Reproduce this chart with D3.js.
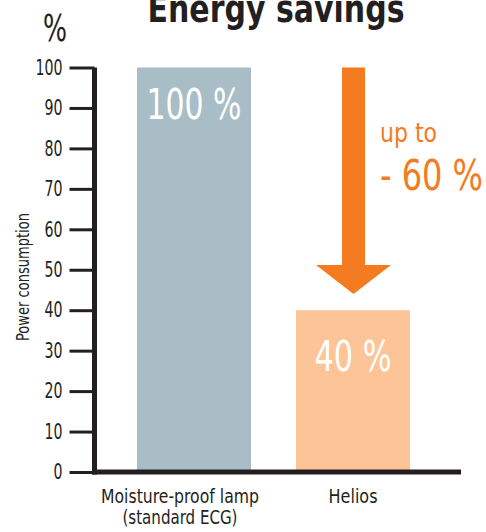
<!DOCTYPE html>
<html lang="en">
<head>
<meta charset="utf-8">
<title>Energy savings</title>
<script src="https://cdn.jsdelivr.net/npm/d3@7"></script>
<style>
  body { margin: 0; background: #fff; }
  svg text { font-family: "Liberation Sans Narrow", "DejaVu Sans Condensed", sans-serif; }
</style>
</head>
<body>
<script>
// data
var categories = ["Moisture-proof lamp|(standard ECG)", "Helios"];
var values = [100, 40];
var valueLabels = ["100 %", "40 %"];
var yTicks = [0, 10, 20, 30, 40, 50, 60, 70, 80, 90, 100];
var arrowFrom = 100, arrowTo = 44;

var width = 486, height = 532;
var ink = "#231f20", orange = "#f47b20";
var barColors = ["#a9bdc6", "#fdc597"];

// the fonts here are wider than the original condensed face, squeeze them
function squeeze(sel, w) {
  sel.attr("textLength", w).attr("lengthAdjust", "spacingAndGlyphs");
}

var svg = d3.select("body").append("svg")
  .attr("width", width)
  .attr("height", height);

var y = d3.scaleLinear().domain([0, 100]).range([472, 67.5]);
var x = d3.scaleBand().domain(categories).range([95, 452])
  .paddingInner(0.283).paddingOuter(0.264);

// title
svg.append("text")
  .attr("x", 276).attr("y", 22)
  .attr("text-anchor", "middle")
  .attr("font-size", 38).attr("font-weight", "bold")
  .attr("fill", ink)
  .call(squeeze, 257)
  .text("Energy savings");

svg.append("text")
  .attr("x", 55).attr("y", 41)
  .attr("text-anchor", "middle")
  .attr("font-size", 38)
  .attr("fill", ink)
  .call(squeeze, 24)
  .text("%");

// bars
svg.selectAll("rect.bar")
  .data(values)
  .enter().append("rect")
  .attr("class", "bar")
  .attr("x", function(d, i) { return x(categories[i]); })
  .attr("y", function(d) { return y(d); })
  .attr("width", x.bandwidth())
  .attr("height", function(d) { return y(0) - y(d); })
  .attr("fill", function(d, i) { return barColors[i]; });

var valWidths = [95, 77], valOffsets = [51, 61];
svg.selectAll("text.val")
  .data(values)
  .enter().append("text")
  .attr("class", "val")
  .attr("x", function(d, i) { return x(categories[i]) + x.bandwidth() / 2; })
  .attr("y", function(d, i) { return y(d) + valOffsets[i]; })
  .attr("text-anchor", "middle")
  .attr("font-size", 42)
  .attr("fill", "#fff")
  .attr("textLength", function(d, i) { return valWidths[i]; })
  .attr("lengthAdjust", "spacingAndGlyphs")
  .text(function(d, i) { return valueLabels[i]; });

// y axis
var yAxis = d3.axisLeft(y).tickValues(yTicks).tickSize(25).tickSizeOuter(0).tickPadding(7);
var gy = svg.append("g").attr("transform", "translate(94.5,0)").call(yAxis);
gy.select(".domain").attr("stroke", ink).attr("stroke-width", 5)
  .attr("d", "M0," + (y(0) + 2.5) + "V" + y(100));
gy.selectAll(".tick line").attr("stroke", ink).attr("stroke-width", 3);
gy.selectAll(".tick text").attr("fill", ink).attr("font-size", 21)
  .attr("textLength", function(d) { return String(d).length * 9; })
  .attr("lengthAdjust", "spacingAndGlyphs");

// x axis line
svg.append("line")
  .attr("x1", 92).attr("x2", 461)
  .attr("y1", y(0)).attr("y2", y(0))
  .attr("stroke", ink).attr("stroke-width", 5);

svg.append("text")
  .attr("transform", "translate(29,277) rotate(-90)")
  .attr("text-anchor", "middle")
  .attr("font-size", 18)
  .attr("fill", ink)
  .call(squeeze, 128)
  .text("Power consumption");

// category labels
var lineWidths = [[158, 115], [49]];
var cat = svg.selectAll("text.cat")
  .data(categories)
  .enter().append("text")
  .attr("class", "cat")
  .attr("text-anchor", "middle")
  .attr("font-size", 19)
  .attr("fill", ink);
cat.each(function(d, i) {
  var cx = x(d) + x.bandwidth() / 2 + (i === 0 ? -14 : 0);
  d3.select(this).selectAll("tspan")
    .data(d.split("|"))
    .enter().append("tspan")
    .attr("x", cx)
    .attr("y", function(s, j) { return 503 + j * 21; })
    .attr("textLength", function(s, j) { return lineWidths[i][j]; })
    .attr("lengthAdjust", "spacingAndGlyphs")
    .text(function(s) { return s; });
});

// arrow
var ax = x("Helios") + x.bandwidth() / 2 + 0.5;
var shaft = 11.5, head = 37.5, headLen = 29;
var yTop = y(arrowFrom), yTip = y(arrowTo);
var pts = [
  [ax - shaft, yTop], [ax + shaft, yTop], [ax + shaft, yTip - headLen],
  [ax + head, yTip - headLen], [ax, yTip], [ax - head, yTip - headLen],
  [ax - shaft, yTip - headLen]
];
svg.append("path")
  .attr("d", d3.line()(pts) + "Z")
  .attr("fill", orange);

svg.append("text")
  .attr("x", 380).attr("y", 142)
  .attr("font-size", 26)
  .attr("fill", orange)
  .call(squeeze, 57)
  .text("up to");

svg.append("text")
  .attr("x", 380).attr("y", 190)
  .attr("font-size", 43)
  .attr("fill", orange)
  .call(squeeze, 103)
  .text("- 60 %");
</script>
</body>
</html>
